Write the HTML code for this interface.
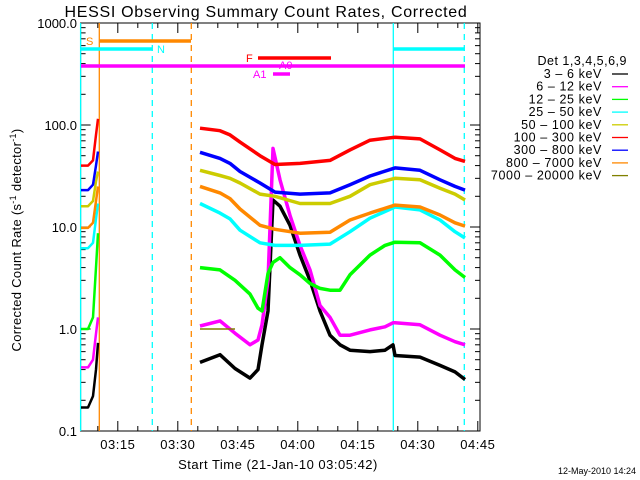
<!DOCTYPE html>
<html><head><meta charset="utf-8"><style>
html,body{margin:0;padding:0;background:#fff;}
svg{display:block;font-family:"Liberation Sans",sans-serif;}
</style></head><body>
<svg id="chart" width="640" height="480" viewBox="0 0 640 480" xmlns="http://www.w3.org/2000/svg">
<text x="266" y="17" font-size="16" text-anchor="middle" letter-spacing="0.7">HESSI Observing Summary Count Rates, Corrected</text>
<text transform="translate(21,240) rotate(-90)" font-size="13" text-anchor="middle" letter-spacing="0.3">Corrected Count Rate (s<tspan font-size="9" dy="-5">-1</tspan><tspan dy="5"> detector</tspan><tspan font-size="9" dy="-5">-1</tspan><tspan dy="5">)</tspan></text>
<text x="278" y="469" font-size="13" text-anchor="middle" letter-spacing="0.5">Start Time (21-Jan-10 03:05:42)</text>
<text x="636" y="474" font-size="9" text-anchor="end">12-May-2010 14:24</text>
<g id="axes"></g>
<g id="marks"></g>
<g id="legend"></g>
</svg>
<script>
// ---- data ----
const xTickLabels = ["03:15","03:30","03:45","04:00","04:15","04:30","04:45"];
const xTickMinutes = [9.3,24.3,39.3,54.3,69.3,84.3,99.3];
const yTickValues = [0.1,1,10,100,1000];
const yTickLabels = ["0.1","1.0","10.0","100.0","1000.0"];
const legendLabels = ["3 \u2013 6 keV","6 \u2013 12 keV","12 \u2013 25 keV","25 \u2013 50 keV","50 \u2013 100 keV","100 \u2013 300 keV","300 \u2013 800 keV","800 \u2013 7000 keV","7000 \u2013 20000 keV"];
const legendColors = ["#000000","#ff00ff","#00ff00","#00ffff","#cccc00","#ff0000","#0000ff","#ff8800","#808000"];

// segment 1 (early data)
const seg1Times = [0.1,1.85,3.1,3.85,4.35];
const seg1Red = [40,40,45,80,115];
const seg1Blue = [23,23,26,40,55];
const seg1Yellow = [16,16,18,28,35];
const seg1Orange = [9.8,9.8,11,18,25];
const seg1Cyan = [6.2,6.2,7,12,17];
const seg1Green = [1.0,1.0,1.3,4,8.7];
const seg1Magenta = [0.42,0.42,0.5,0.9,1.3];
const seg1Black = [0.17,0.17,0.22,0.4,0.73];

// segment 2 smooth series
const seg2Times = [29.85,34.85,37.35,39.85,44.85,48.6,54.85,62.35,67.35,72.35,78.6,84.85,89.85,93.6,96.1];
const seg2Red = [93,88,80,68,50,41,42,45,57,71,76,73,57,47,44];
const seg2Blue = [54,47,42,35,27,22,21,21.6,26,31.6,38,36,29,25,23];
const seg2Yellow = [36,32,30,27,21,20,17,17,20,26,30,29,24,21,18.4];
const seg2Orange = [25,21.6,19,15,10.4,9.5,8.7,8.9,11.7,13.7,16.4,15.7,13.1,11,10.2];
const seg2Cyan = [17,13.7,12,9.3,7,6.6,6.6,6.8,9,12.2,15.7,14.7,11.7,9,7.8];

// segment 2 flare-affected series
const flareTimes = [29.85,34.85,38.6,42.35,44.35,45.35,46.85,48.1,49.85,52.35,54.85,57.35,59.85,62.35,64.85,67.35,72.35,76.1,78.1,78.6,84.85,89.85,93.6,96.1];
const flareGreen = [4,3.8,3.0,2.2,1.6,1.5,3.5,4.5,5,4,3.4,2.8,2.5,2.4,2.4,3.4,5.3,6.6,7,7.1,7,5.3,3.8,3.2];
const flareMagenta = [1.07,1.2,0.91,0.7,0.78,1.1,3,59,29,13,6.6,3.8,1.7,1.3,0.87,0.87,0.98,1.05,1.15,1.15,1.1,0.87,0.75,0.7];
const flareBlack = [0.47,0.56,0.41,0.33,0.4,0.7,1.5,18.4,16,10.4,5.3,3,1.5,0.87,0.7,0.62,0.6,0.62,0.7,0.55,0.53,0.44,0.38,0.32];
const oliveTimes = [29.85,38.6];
const oliveValues = [1.0,1.0];

// ---- scales ----
const X0=80.6, PXMIN=4, YTOP=23, YBOT=431, XRIGHT=480;
function xs(t){return X0+PXMIN*t;}
function ys(v){return 329-102*Math.log10(v);}
const NS="http://www.w3.org/2000/svg";
const axes=document.getElementById('axes'), marks=document.getElementById('marks'), legend=document.getElementById('legend');
function mk(tag,attrs,parent){const e=document.createElementNS(NS,tag);for(const k in attrs)e.setAttribute(k,attrs[k]);parent.appendChild(e);return e;}

// frame
let fr=mk('rect',{x:X0,y:YTOP,width:XRIGHT-X0,height:YBOT-YTOP,fill:'none',stroke:'#000','stroke-width':1},axes);



// y ticks
for(let d=0; d<4; d++){
  for(let m=1;m<=9;m++){
    const v=yTickValues[d]*m, y=ys(v), L=(m===1)?10:5;
    let t1=mk('line',{x1:X0,x2:X0+L,y1:y,y2:y,stroke:'#000'},axes);
    
    
    let t2=mk('line',{x1:XRIGHT,x2:XRIGHT-L,y1:y,y2:y,stroke:'#000'},axes);
    
    
  }
}
yTickValues.forEach((v,i)=>{
  let t=mk('text',{x:77,y:ys(v)+5,'font-size':13,'text-anchor':'end'},axes);
  t.textContent=yTickLabels[i];
  
  
});
// x ticks
for(let t=-5.7; t<=100; t+=5){
  if(t<0) continue;
  const x=xs(t), major=Math.abs(((t-9.3)%15))<0.01;
  const L=major?10:5;
  let a=mk('line',{x1:x,x2:x,y1:YBOT,y2:YBOT-L,stroke:'#000'},axes);
  
  
  let b=mk('line',{x1:x,x2:x,y1:YTOP,y2:YTOP+L,stroke:'#000'},axes);
  
  
}
xTickMinutes.forEach((m,i)=>{
  let t=mk('text',{x:xs(m),y:449,'font-size':13,'text-anchor':'middle','letter-spacing':0.5},axes);
  t.textContent=xTickLabels[i];
  
  
});

// vertical markers
const vlines=[[80.6,'#00ffff',''],[99.3,'#ff8800',''],[152.3,'#00ffff','6,5'],[191.3,'#ff8800','6,5'],[393.3,'#00ffff',''],[464.3,'#00ffff','6,5']];
vlines.forEach(v=>{
  let l=mk('line',{x1:v[0],x2:v[0],y1:YTOP,y2:YBOT,stroke:v[1],'stroke-width':1.3,'stroke-dasharray':v[2]},marks);
  
  
});
// top bars
const bars=[[99,191,41,'#ff8800','S',86,45],[81,152,49,'#00ffff','N',157,53],[393,465,49,'#00ffff','',0,0],[81,465,66,'#ff00ff','',0,0],[258,331,58,'#ff0000','F',246,62],[273,290,74,'#ff00ff','A1',253,78]];
bars.forEach(b=>{
  let l=mk('line',{x1:b[0],x2:b[1],y1:b[2],y2:b[2],stroke:b[3],'stroke-width':3.5},marks);
  
  
  if(b[4]){let t=mk('text',{x:b[5],y:b[6],fill:b[3],'font-size':11},marks);t.textContent=b[4];
    
    }
});
let a0=mk('text',{x:279,y:69,fill:'#ff00ff','font-size':11},marks);a0.textContent='A0';



// series
function series(times,vals,color,name,w){
  const pts=times.map((t,i)=>xs(t).toFixed(1)+','+ys(vals[i]).toFixed(1)).join(' ');
  let p=mk('polyline',{points:pts,fill:'none',stroke:color,'stroke-width':w||3.5,'stroke-linejoin':'round'},marks);
  
  
}
series(seg1Times,seg1Black,'#000000','series-3-6kev-early',2.5);
series(seg1Times,seg1Magenta,'#ff00ff','series-6-12kev-early',2.5);
series(seg1Times,seg1Green,'#00ff00','series-12-25kev-early',2.5);
series(seg1Times,seg1Cyan,'#00ffff','series-25-50kev-early',2.5);
series(seg1Times,seg1Orange,'#ff8800','series-orange-early',2.5);
series(seg1Times,seg1Yellow,'#cccc00','series-yellow-early',2.5);
series(seg1Times,seg1Blue,'#0000ff','series-blue-early',2.5);
series(seg1Times,seg1Red,'#ff0000','series-red-early',2.5);
series(flareTimes,flareBlack,'#000000','series-3-6kev');
series(flareTimes,flareMagenta,'#ff00ff','series-6-12kev');
series(flareTimes,flareGreen,'#00ff00','series-12-25kev');
series(oliveTimes,oliveValues,'#808000','series-7000-20000kev',1.5);
series(seg2Times,seg2Cyan,'#00ffff','series-25-50kev');
series(seg2Times,seg2Orange,'#ff8800','series-orange');
series(seg2Times,seg2Yellow,'#cccc00','series-yellow');
series(seg2Times,seg2Blue,'#0000ff','series-blue');
series(seg2Times,seg2Red,'#ff0000','series-red');

// legend
let lh=mk('text',{x:627,y:65,'font-size':12.5,'text-anchor':'end','letter-spacing':0.5},legend);
lh.textContent='Det 1,3,4,5,6,9';


legendLabels.forEach((lab,i)=>{
  const y=78+i*12.7;
  let t=mk('text',{x:602,y:y,'font-size':12.5,'text-anchor':'end','letter-spacing':0.6},legend);
  t.textContent=lab;
  
  
  let l=mk('line',{x1:612,x2:628,y1:y-4,y2:y-4,stroke:legendColors[i],'stroke-width':1.3},legend);
  
  
});
</script>
</body></html>
